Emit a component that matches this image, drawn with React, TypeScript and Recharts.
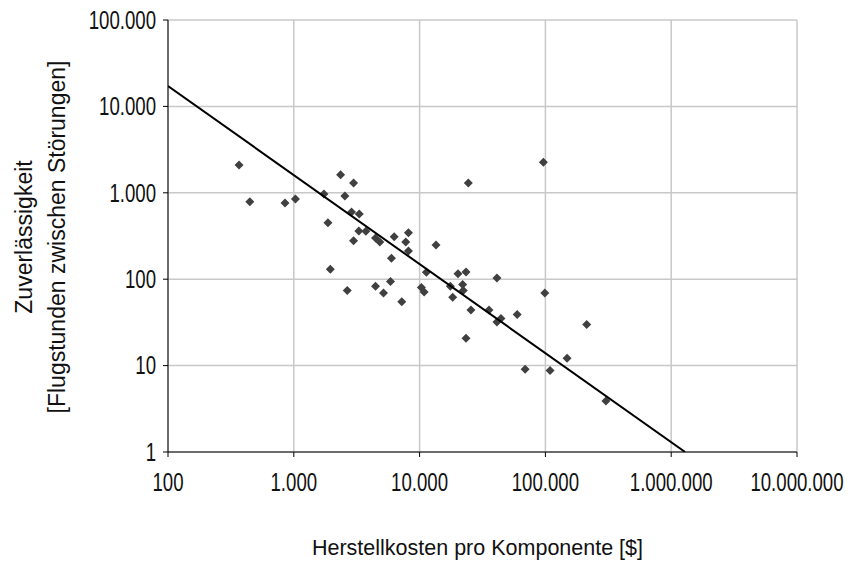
import React from "react";
import { ScatterChart, Scatter, XAxis, YAxis, CartesianGrid } from "recharts";

// Herstellkosten [$] und Zuverlässigkeit [Flugstunden] je Komponente
const costs = [
  367, 447, 851, 1030, 1737, 1868, 1950, 2355, 2547, 2661, 2877, 2985, 2985,
  3289, 3312, 3739, 4463, 4463, 4827, 5163, 5868, 5975, 6278, 7213, 7760, 8150,
  8150, 10330, 10860, 11320, 13500, 17550, 18320, 20200, 21970, 22240, 23380,
  23380, 24380, 25600, 35600, 41200, 41200, 44300, 59700, 69000, 96400, 98900,
  108900, 148600, 213000, 302900,
];
const reliability = [
  2100, 790, 762, 848, 968, 451, 130, 1620, 918, 74, 600, 1298, 279, 361, 568,
  358, 300, 83, 270, 69, 94, 175, 310, 55, 270, 345, 212, 80, 71, 120, 249, 83,
  62, 116, 87, 74, 121, 20.7, 1298, 44, 44, 103, 32, 35, 39, 9.1, 2254, 69, 8.8,
  12.2, 30, 3.9,
];

// Trendlinie (Endpunkte)
const trendX = [100, 1290000];
const trendY = [17200, 1];

const xTicks = [100, 1000, 10000, 100000, 1000000, 10000000];
const yTicks = [1, 10, 100, 1000, 10000, 100000];

const points = costs.map((x, i) => ({ x, y: reliability[i] }));
const trend = trendX.map((x, i) => ({ x, y: trendY[i] }));

const fmt = (v: number) => String(Math.round(v)).replace(/\B(?=(\d{3})+(?!\d))/g, ".");

const FONT = "'Liberation Sans', Arial, sans-serif";

// schmale Schrift nachbilden
const NarrowTick = (props: any) => {
  const { x, y, payload, textAnchor, vertical } = props;
  return (
    <text
      x={x}
      y={y}
      dy={vertical ? "0.355em" : "0.71em"}
      textAnchor={textAnchor}
      fill="#111"
      fontSize={25}
      fontFamily={FONT}
      transform={`translate(${x},0) scale(0.745,1) translate(${-x},0)`}
    >
      {fmt(payload.value)}
    </text>
  );
};

const Diamond = (props: any) => {
  const { cx, cy } = props;
  const r = 4.5;
  return (
    <polygon
      points={`${cx},${cy - r} ${cx + r},${cy} ${cx},${cy + r} ${cx - r},${cy}`}
      fill="#404040"
    />
  );
};

export default function App() {
  return (
    <div style={{ position: "absolute", left: 0, top: 0, width: 855, height: 563, background: "#fff", fontFamily: FONT }}>
      <ScatterChart width={855} height={563} margin={{ top: 20, right: 58, left: 68, bottom: 71 }}>
        <CartesianGrid stroke="#c8c8c8" strokeWidth={1.5} />
        <XAxis
          type="number"
          dataKey="x"
          scale="log"
          domain={[100, 10000000]}
          ticks={xTicks}
          height={40}
          stroke="#000"
          tickSize={5}
          tickMargin={16}
          tick={<NarrowTick />}
          allowDataOverflow
        />
        <YAxis
          type="number"
          dataKey="y"
          scale="log"
          domain={[1, 100000]}
          ticks={yTicks}
          width={100}
          stroke="#000"
          tickSize={5}
          tickMargin={7}
          tick={<NarrowTick vertical />}
          allowDataOverflow
        />
        <Scatter data={points} shape={Diamond} isAnimationActive={false} />
        <Scatter
          data={trend}
          line={{ stroke: "#000", strokeWidth: 2 }}
          shape={() => <g />}
          isAnimationActive={false}
        />
      </ScatterChart>
      <div
        style={{
          position: "absolute",
          left: 0,
          width: 955,
          top: 534,
          textAlign: "center",
          fontSize: 21.5,
          color: "#111",
          lineHeight: "28px",
        }}
      >
        Herstellkosten pro Komponente [$]
      </div>
      <div
        style={{
          position: "absolute",
          left: 41,
          top: 237,
          width: 420,
          transform: "translate(-50%, -50%) rotate(-90deg)",
          textAlign: "center",
          fontSize: 23,
          color: "#111",
          lineHeight: "33px",
        }}
      >
        Zuverlässigkeit
        <br />
        [Flugstunden zwischen Störungen]
      </div>
    </div>
  );
}
